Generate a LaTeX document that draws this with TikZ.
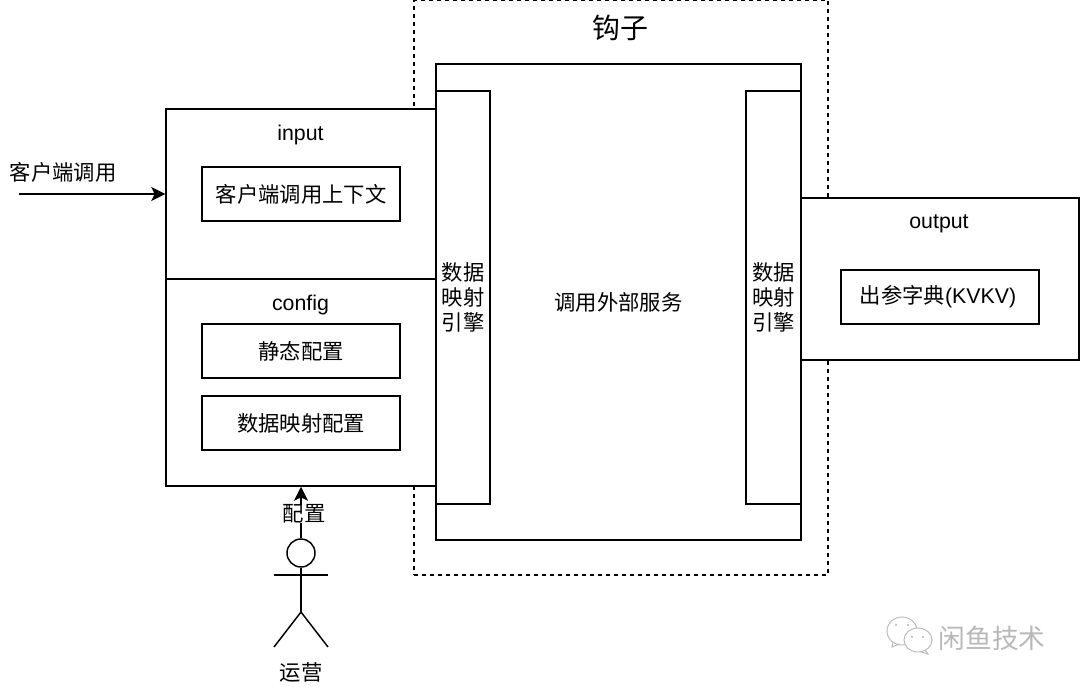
\documentclass[tikz,border=0pt]{standalone}
\usepackage{fontspec}
\setmainfont{Liberation Sans}
\newfontfamily\cjk{Noto Sans CJK SC}
\usepackage{xcolor}
\usepackage{tikz}
\usetikzlibrary{arrows.meta}
\definecolor{markgray}{gray}{0.72}
\tikzset{
    box/.style={draw, fill=white, line width=1.1pt, inner sep=0pt, align=center},
    inbox/.style={box, minimum width=148.5pt, minimum height=40.5pt},
    word/.style={inner sep=0pt, align=center},
    limb/.style={line width=1.1pt}
}
\begin{document}
\begin{tikzpicture}[x=0.75pt, y=-0.75pt, font=\fontsize{16pt}{19pt}\selectfont, >={Stealth[length=10.5pt, width=10.5pt, inset=2.5pt]}]
        \useasboundingbox (0,0) rectangle (1080,686);
        \node[draw, dashed, line width=1.1pt, inner sep=0pt, minimum width=310.5pt, minimum height=431pt] (hook) at (621,287.5) {};
        \node[word, font=\fontsize{21pt}{24pt}\selectfont\cjk] (hooktitle) at (620,28) {钩子};
        \node[box, font=\fontsize{16pt}{19pt}\selectfont\cjk, minimum width=273.75pt, minimum height=357pt] (service) at (618.5,302) {调用外部服务};

        \node[box, minimum width=202.5pt, minimum height=127.5pt] (input) at (301,194) {};
        \node[word] (inputlabel) at (300.5,134.5) {input};
        \node[inbox, font=\fontsize{16pt}{19pt}\selectfont\cjk] (context) at (301,194) {客户端调用上下文};
        \node[box, minimum width=202.5pt, minimum height=155.25pt] (config) at (301,382.5) {};
        \node[word] (configlabel) at (300.5,305) {config};
        \node[inbox, font=\fontsize{16pt}{19pt}\selectfont\cjk] (static) at (301,351) {静态配置};
        \node[inbox, font=\fontsize{16pt}{19pt}\selectfont\cjk] (mapconf) at (301,423) {数据映射配置};

        \node[box, font=\fontsize{16pt}{19pt}\selectfont\cjk, minimum width=40.5pt, minimum height=310pt] (mapleft) at (463,297.5) {数据\\映射\\引擎};
        \node[box, font=\fontsize{16pt}{19pt}\selectfont\cjk, minimum width=41.25pt, minimum height=310pt] (mapright) at (773.5,297.5) {数据\\映射\\引擎};

        \node[box, minimum width=208.5pt, minimum height=121.5pt] (output) at (940,279) {};
        \node[word] (outputlabel) at (939,224) {output};
        \node[inbox, font=\fontsize{16pt}{19pt}\selectfont] (dict) at (940,297) {\hspace{-3pt}{\cjk 出参字典}(KVKV)};

        \coordinate (client) at (19,194);
        \node[word, font=\fontsize{16pt}{19pt}\selectfont\cjk] (clientlabel) at (63,172) {客户端调用};
        \draw[->, line width=1.1pt] (client) -- (input.west);

        \node[draw, circle, line width=1.1pt, inner sep=0pt, minimum size=21pt] (head) at (301,553) {};
        \coordinate (hip) at (301,612);
        \coordinate (armleft) at (274,575);
        \coordinate (armright) at (328,575);
        \coordinate (footleft) at (274,647);
        \coordinate (footright) at (328,647);
        \draw[limb] (head) -- (hip);
        \draw[limb] (armleft) -- (armright);
        \draw[limb] (footleft) -- (hip) -- (footright);
        \node[word, font=\fontsize{16pt}{19pt}\selectfont\cjk] (actorlabel) at (301,672) {运营};
        \draw[->, line width=1.1pt] (head) -- (config.south);
        \node[word, fill=white, font=\fontsize{16pt}{19pt}\selectfont\cjk] (configure) at (304,514) {配置};

        \draw[markgray, line width=0.7pt, fill=white] (902,631) ellipse (15 and 14);
        \draw[markgray, line width=0.7pt] (893,642) -- (892,647) -- (899,644);
        \draw[markgray, line width=0.7pt, fill=white] (918,640) ellipse (14 and 12);
        \draw[markgray, line width=0.7pt] (925,650) -- (928,654) -- (921,652);
        \foreach \dotx/\doty in {896/625, 908/625, 912/637, 923/637}
            \fill[markgray] (\dotx,\doty) circle (1.2);
        \node[word, text=markgray, font=\fontsize{20pt}{24pt}\selectfont\cjk] (mark) at (992,638) {闲鱼技术};
    \end{tikzpicture}
\end{document}
